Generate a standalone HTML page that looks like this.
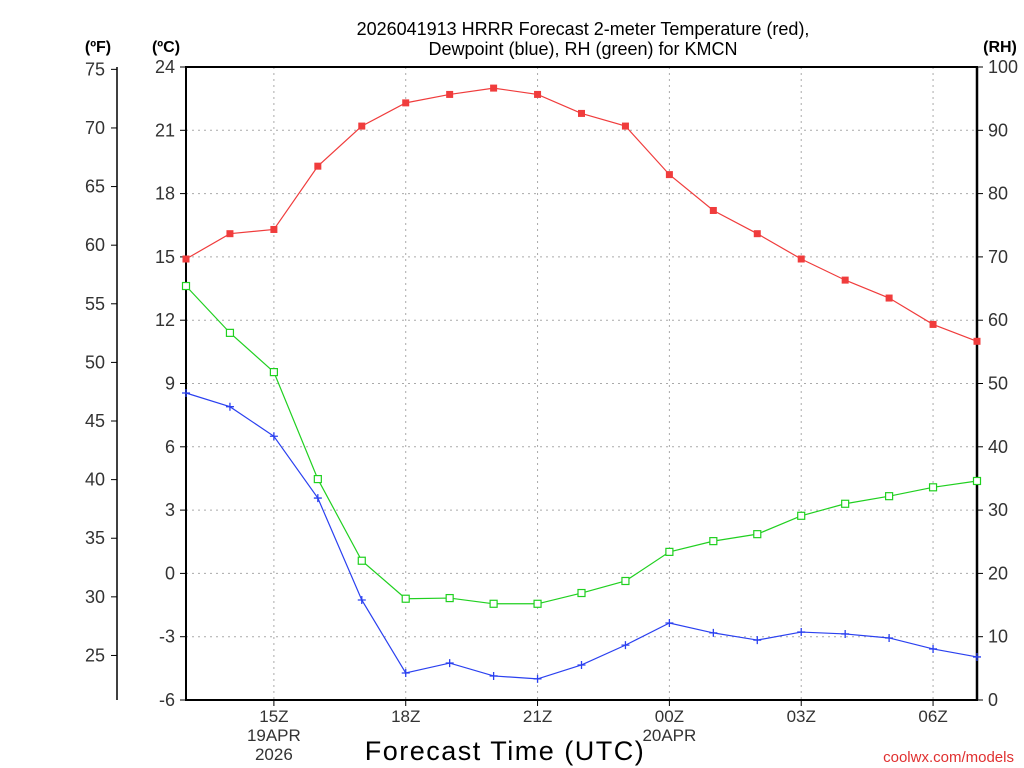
<!DOCTYPE html>
<html><head><meta charset="utf-8"><style>
body{margin:0;background:#fff;}
svg{display:block;font-family:"Liberation Sans",sans-serif;}
</style></head><body>
<svg id="chart" width="1024" height="768">
<text x="583" y="35" text-anchor="middle" font-size="18">2026041913 HRRR Forecast 2-meter Temperature (red),</text>
<text x="583" y="55" text-anchor="middle" font-size="18">Dewpoint (blue), RH (green) for KMCN</text>
<text x="98" y="52" text-anchor="middle" font-size="16" font-weight="bold">(ºF)</text>
<text x="166" y="52" text-anchor="middle" font-size="16" font-weight="bold">(ºC)</text>
<text x="1000" y="52" text-anchor="middle" font-size="16" font-weight="bold">(RH)</text>
<text x="505" y="760" text-anchor="middle" font-size="27" letter-spacing="1.5">Forecast Time (UTC)</text>
<text x="1014" y="762" text-anchor="end" font-size="15" fill="#e03030">coolwx.com/models</text>
<g id="grid"></g><g id="axes"></g><g id="series"></g>
</svg>
<script>
const hours=["13","14","15","16","17","18","19","20","21","22","23","00","01","02","03","04","05","06","07"];
const tempC=[14.9,16.1,16.3,19.3,21.2,22.3,22.7,23.0,22.7,21.8,21.2,18.9,17.2,16.1,14.9,13.9,13.05,11.8,11.0];
const dewC=[8.55,7.9,6.5,3.57,-1.26,-4.72,-4.25,-4.86,-5.0,-4.34,-3.4,-2.35,-2.82,-3.16,-2.78,-2.87,-3.06,-3.58,-3.96];
const rh=[65.4,58.0,51.8,34.9,22.0,16.0,16.1,15.2,15.2,16.9,18.8,23.4,25.1,26.2,29.1,31.0,32.2,33.6,34.6];
const cTicks=[-6,-3,0,3,6,9,12,15,18,21,24];
const fTicks=[25,30,35,40,45,50,55,60,65,70,75];
const rhTicks=[0,10,20,30,40,50,60,70,80,90,100];
const xTickIdx=[2,5,8,11,14,17];
const xTickLabels=["15Z","18Z","21Z","00Z","03Z","06Z"];
const L=186,R=977,T=67,B=700;
const x=i=>L+i*(R-L)/(hours.length-1);
const yC=c=>B-(c+6)/30*(B-T);
const yF=f=>yC((f-32)*5/9);
const yRH=v=>B-v/100*(B-T);
const NS="http://www.w3.org/2000/svg";
function mk(p,tag,at){const e=document.createElementNS(NS,tag);for(const k in at)e.setAttribute(k,at[k]);p.appendChild(e);return e;}
const G=document.getElementById('grid'),A=document.getElementById('axes'),S=document.getElementById('series');
const tc='#333';
cTicks.forEach(c=>{
 if(c>-6&&c<24){const l=mk(G,'line',{x1:L,x2:R,y1:yC(c),y2:yC(c),stroke:'#aaa','stroke-dasharray':'2,4'});
 }
 mk(A,'line',{x1:L-6,x2:L,y1:yC(c),y2:yC(c),stroke:'#000'});
 const t=mk(A,'text',{x:L-11,y:yC(c)+6,'text-anchor':'end','font-size':18,fill:tc});t.textContent=c;
 
});
fTicks.forEach(f=>{
 mk(A,'line',{x1:111,x2:117,y1:yF(f),y2:yF(f),stroke:'#000'});
 const t=mk(A,'text',{x:105,y:yF(f)+6,'text-anchor':'end','font-size':18,fill:tc});t.textContent=f;
 
});
rhTicks.forEach(v=>{
 mk(A,'line',{x1:R,x2:R+6,y1:yRH(v),y2:yRH(v),stroke:'#000'});
 const t=mk(A,'text',{x:988,y:yRH(v)+6,'font-size':18,fill:tc});t.textContent=v;
 
});
xTickIdx.forEach((i,k)=>{
 const l=mk(G,'line',{x1:x(i),x2:x(i),y1:T,y2:B,stroke:'#aaa','stroke-dasharray':'2,4'});
 
 mk(A,'line',{x1:x(i),x2:x(i),y1:B,y2:B+6,stroke:'#000'});
 const t=mk(A,'text',{x:x(i),y:722,'text-anchor':'middle','font-size':17,fill:tc});t.textContent=xTickLabels[k];
 
});
[[2,"19APR",741],[2,"2026",760],[11,"20APR",741]].forEach(d=>{
 const t=mk(A,'text',{x:x(d[0]),y:d[2],'text-anchor':'middle','font-size':17,fill:tc});t.textContent=d[1];
 
});
const fr=mk(A,'rect',{x:L,y:T,width:R-L,height:B-T,fill:'none',stroke:'#000','stroke-width':2});

mk(A,'line',{x1:R,x2:R,y1:T,y2:B,stroke:'#000','stroke-width':2.5});
const fa=mk(A,'line',{x1:117,x2:117,y1:T,y2:B,stroke:'#000','stroke-width':1.5});

function line(vals,fy,col,name){
 const p=mk(S,'polyline',{points:vals.map((v,i)=>x(i)+','+fy(v)).join(' '),fill:'none',stroke:col,'stroke-width':1.2});
 
}
line(tempC,yC,'#f03c3c','temperature');
line(rh,yRH,'#20d020','rh');
line(dewC,yC,'#2a40f0','dewpoint');
tempC.forEach((v,i)=>{const m=mk(S,'rect',{x:x(i)-3.5,y:yC(v)-3.5,width:7,height:7,fill:'#f03c3c'});
 });
rh.forEach((v,i)=>{const m=mk(S,'rect',{x:x(i)-3.5,y:yRH(v)-3.5,width:7,height:7,fill:'#fff',stroke:'#20d020','stroke-width':1.2});
 });
dewC.forEach((v,i)=>{const m=mk(S,'path',{d:`M${x(i)-4},${yC(v)}h8M${x(i)},${yC(v)-4}v8`,stroke:'#2a40f0','stroke-width':1.3});
 });
</script>
</body></html>
